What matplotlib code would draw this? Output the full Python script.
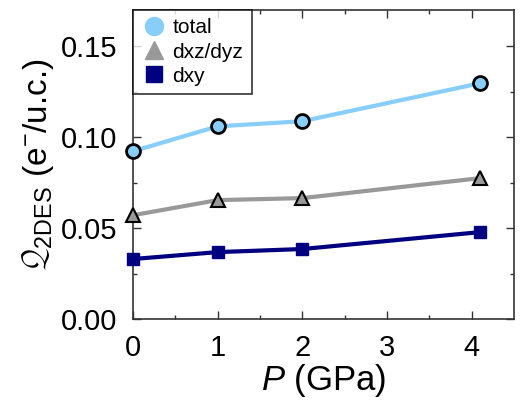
import matplotlib.pyplot as plt
from matplotlib.lines import Line2D

plt.rcParams['font.family'] = ['Liberation Sans', 'DejaVu Sans']
plt.rcParams['mathtext.fontset'] = 'custom'
plt.rcParams['mathtext.rm'] = 'Liberation Sans'
plt.rcParams['mathtext.it'] = 'Liberation Sans:italic'
plt.rcParams['mathtext.sf'] = 'Liberation Sans'

# Pressure (GPa) and 2DES charge (e-/u.c.)
pressure = [0, 1, 2, 4.1]
total = [0.0923, 0.106, 0.1088, 0.1297]
dxz_dyz = [0.0571, 0.0654, 0.0665, 0.0775]
dxy = [0.033, 0.0368, 0.0385, 0.0478]

c_total = '#87cefa'
c_dxz = '#999999'
c_dxy = '#000080'

fig = plt.figure(figsize=(5.24, 4.01), dpi=100)
ax = fig.add_axes([133 / 524, 1 - 319 / 401, 381 / 524, 309 / 401])

ax.plot(pressure, total, '-', color=c_total, lw=3, zorder=2)
ax.plot(pressure, total, 'o', ms=10, mfc=c_total, mec='black', mew=2, zorder=3, clip_on=False)
ax.plot(pressure, dxz_dyz, '-', color=c_dxz, lw=3, zorder=2)
ax.plot(pressure, dxz_dyz, '^', ms=10, mfc=c_dxz, mec='black', mew=1.5, zorder=3, clip_on=False)
ax.plot(pressure, dxy, 's-', color=c_dxy, lw=3, ms=9, mfc=c_dxy, mec=c_dxy, zorder=3, clip_on=False)

ax.set_xlim(0, 4.5)
ax.set_ylim(0, 0.17)
ax.set_xticks([0, 1, 2, 3, 4])
ax.set_xticks([0.5, 1.5, 2.5, 3.5], minor=True)
ax.set_yticks([0, 0.05, 0.10, 0.15])
ax.set_yticks([0.025, 0.075, 0.125], minor=True)
ax.set_yticklabels(['0.00', '0.05', '0.10', '0.15'])
ax.tick_params(which='both', direction='in', top=True, right=True, labelsize=21, width=1, color='#333333')
ax.tick_params(which='major', length=6)
ax.tick_params(axis='y', which='major', pad=11)
ax.tick_params(axis='x', which='major', pad=11)
ax.tick_params(which='minor', length=3)
for s in ax.spines.values():
    s.set_color('#333333')
    s.set_linewidth(1.2)

ax.set_xlabel(r'$P$ (GPa)', fontsize=25, labelpad=0)
ylab = ax.set_ylabel(r'$\mathcal{Q}_{\mathsf{2DES}}$ (e$^{-}$/u.c.)', fontsize=24, labelpad=4)

handles = [
    Line2D([], [], ls='none', marker='o', ms=13, mfc=c_total, mec=c_total, label='total'),
    Line2D([], [], ls='none', marker='^', ms=13, mfc=c_dxz, mec=c_dxz, label='dxz/dyz'),
    Line2D([], [], ls='none', marker='s', ms=11, mfc=c_dxy, mec=c_dxy, label='dxy'),
]
leg = ax.legend(handles=handles, loc='upper left', fontsize=15, frameon=True, fancybox=False,
                edgecolor='black', handletextpad=0.3, borderpad=0.4, labelspacing=0.25,
                handlelength=1.2, borderaxespad=0)
leg.get_frame().set_linewidth(1.2)

fig.savefig('out.png', dpi=100)
